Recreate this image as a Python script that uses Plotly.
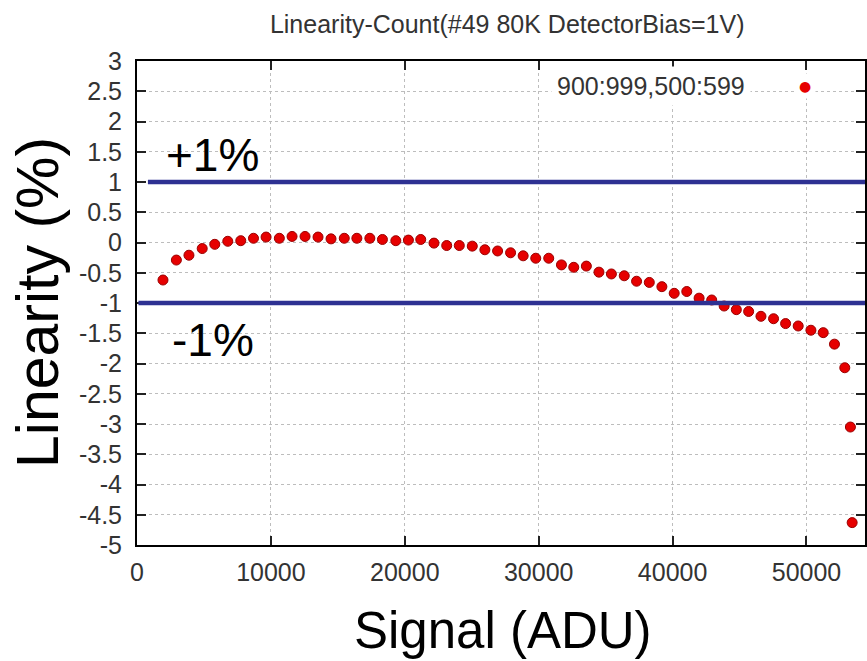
import plotly.graph_objects as go

# ---- data ----
signal_adu = [1940, 2940, 3880, 4870, 5810, 6780, 7750, 8700, 9640, 10630,
              11580, 12550, 13520, 14490, 15480, 16420, 17390, 18330, 19330, 20270,
              21190, 22180, 23130, 24070, 25040, 25980, 26930, 27900, 28840, 29780,
              30750, 31700, 32620, 33560, 34500, 35430, 36390, 37310, 38260, 39200,
              40120, 41060, 41980, 42920, 43850, 44760, 45680, 46600, 47540, 48440,
              49380, 50330, 51250, 52090, 52860, 53280, 53410]
linearity_pct = [-0.62, -0.29, -0.21, -0.10, -0.03, 0.02, 0.03, 0.07, 0.09, 0.07,
                 0.10, 0.10, 0.09, 0.06, 0.07, 0.07, 0.07, 0.05, 0.03, 0.04,
                 0.05, -0.01, -0.05, -0.05, -0.06, -0.12, -0.14, -0.17, -0.22, -0.26,
                 -0.26, -0.37, -0.41, -0.39, -0.49, -0.52, -0.55, -0.64, -0.66, -0.73,
                 -0.84, -0.81, -0.92, -0.95, -1.05, -1.11, -1.14, -1.22, -1.26, -1.34,
                 -1.38, -1.45, -1.49, -1.68, -2.07, -3.05, -4.63]
series_name = "900:999,500:599"
limit_levels = [1, -1]
limit_labels = ["+1%", "-1%"]

x_tickvals = [0, 10000, 20000, 30000, 40000, 50000]
x_ticktext = ["0", "10000", "20000", "30000", "40000", "50000"]
y_tickvals = [3, 2.5, 2, 1.5, 1, 0.5, 0, -0.5, -1, -1.5, -2, -2.5, -3, -3.5, -4, -4.5, -5]
y_ticktext = ["3", "2.5", "2", "1.5", "1", "0.5", "0", "-0.5", "-1", "-1.5", "-2",
              "-2.5", "-3", "-3.5", "-4", "-4.5", "-5"]

SMALL = "Liberation Sans, Arial, sans-serif"
ARIAL = "Liberation Sans, Arial, sans-serif"
BLUE = "#2e3192"
RED = "#e60000"

fig = go.Figure()
fig.add_trace(go.Scatter(
    x=signal_adu, y=linearity_pct, mode="markers", name=series_name,
    marker=dict(size=10, color=RED, line=dict(color="#9a0000", width=1)),
    showlegend=False, cliponaxis=False))

shapes = []
# +/-1% limit lines
starts = [0.015, 0.002]
for lvl, x0 in zip(limit_levels, starts):
    shapes.append(dict(type="line", xref="x domain", yref="y",
                       x0=x0, x1=1.0, y0=lvl, y1=lvl,
                       line=dict(color=BLUE, width=4.5), layer="above"))

annotations = [
    # key (white box hides grid behind it, as in the original)
    dict(text=series_name, xref="paper", yref="paper", x=0.844, y=0.948,
         xanchor="right", yanchor="middle", showarrow=False,
         bgcolor="white", borderpad=5,
         font=dict(family=SMALL, size=25, color="#333333")),
    dict(text="●", xref="paper", yref="paper", x=0.9178, y=0.948,
         xanchor="center", yanchor="middle", showarrow=False,
         bgcolor="white", borderpad=4,
         font=dict(family="DejaVu Sans, sans-serif", size=14, color=RED)),
    dict(text=limit_labels[0], xref="paper", yref="paper", x=0.104, y=0.806,
         xanchor="center", yanchor="middle", showarrow=False,
         font=dict(family=ARIAL, size=46, color="black")),
    dict(text=limit_labels[1], xref="paper", yref="paper", x=0.104, y=0.424,
         xanchor="center", yanchor="middle", showarrow=False,
         font=dict(family=ARIAL, size=46, color="black")),
    dict(text="Signal (ADU)", xref="paper", yref="paper", x=0.503, y=-0.177,
         xanchor="center", yanchor="middle", showarrow=False,
         font=dict(family=ARIAL, size=51, color="black")),
    dict(text="Linearity (%)", xref="paper", yref="paper", x=-0.136, y=0.502,
         xanchor="center", yanchor="middle", showarrow=False, textangle=-90,
         font=dict(family=ARIAL, size=59, color="black")),
]

axis_common = dict(
    showline=True, linecolor="black", linewidth=2, mirror="ticks",
    ticks="inside", ticklen=9, tickwidth=2, tickcolor="#222222",
    showgrid=True, gridcolor="#bdbdbd", gridwidth=1, griddash="dot",
    zeroline=False,
    tickfont=dict(family=SMALL, size=25, color="#333333"),
)

fig.update_layout(
    width=867, height=661,
    margin=dict(l=137, r=0, t=61, b=116),
    paper_bgcolor="white", plot_bgcolor="white",
    title=dict(text="Linearity-Count(#49 80K DetectorBias=1V)",
               x=0.585, xanchor="center", y=0.963, yanchor="middle",
               font=dict(family=SMALL, size=25, color="#333333")),
    xaxis=dict(range=[0, 54370], tickvals=x_tickvals, ticktext=x_ticktext,
               ticklabelstandoff=4, **axis_common),
    yaxis=dict(range=[-5, 3], tickvals=y_tickvals, ticktext=y_ticktext,
               ticklabelstandoff=8, **axis_common),
    shapes=shapes, annotations=annotations,
    showlegend=False,
)

fig.write_html("out.html",
               config={"displayModeBar": False},
               post_script="document.body.style.margin='0';"
                           "document.body.style.overflow='hidden';")
